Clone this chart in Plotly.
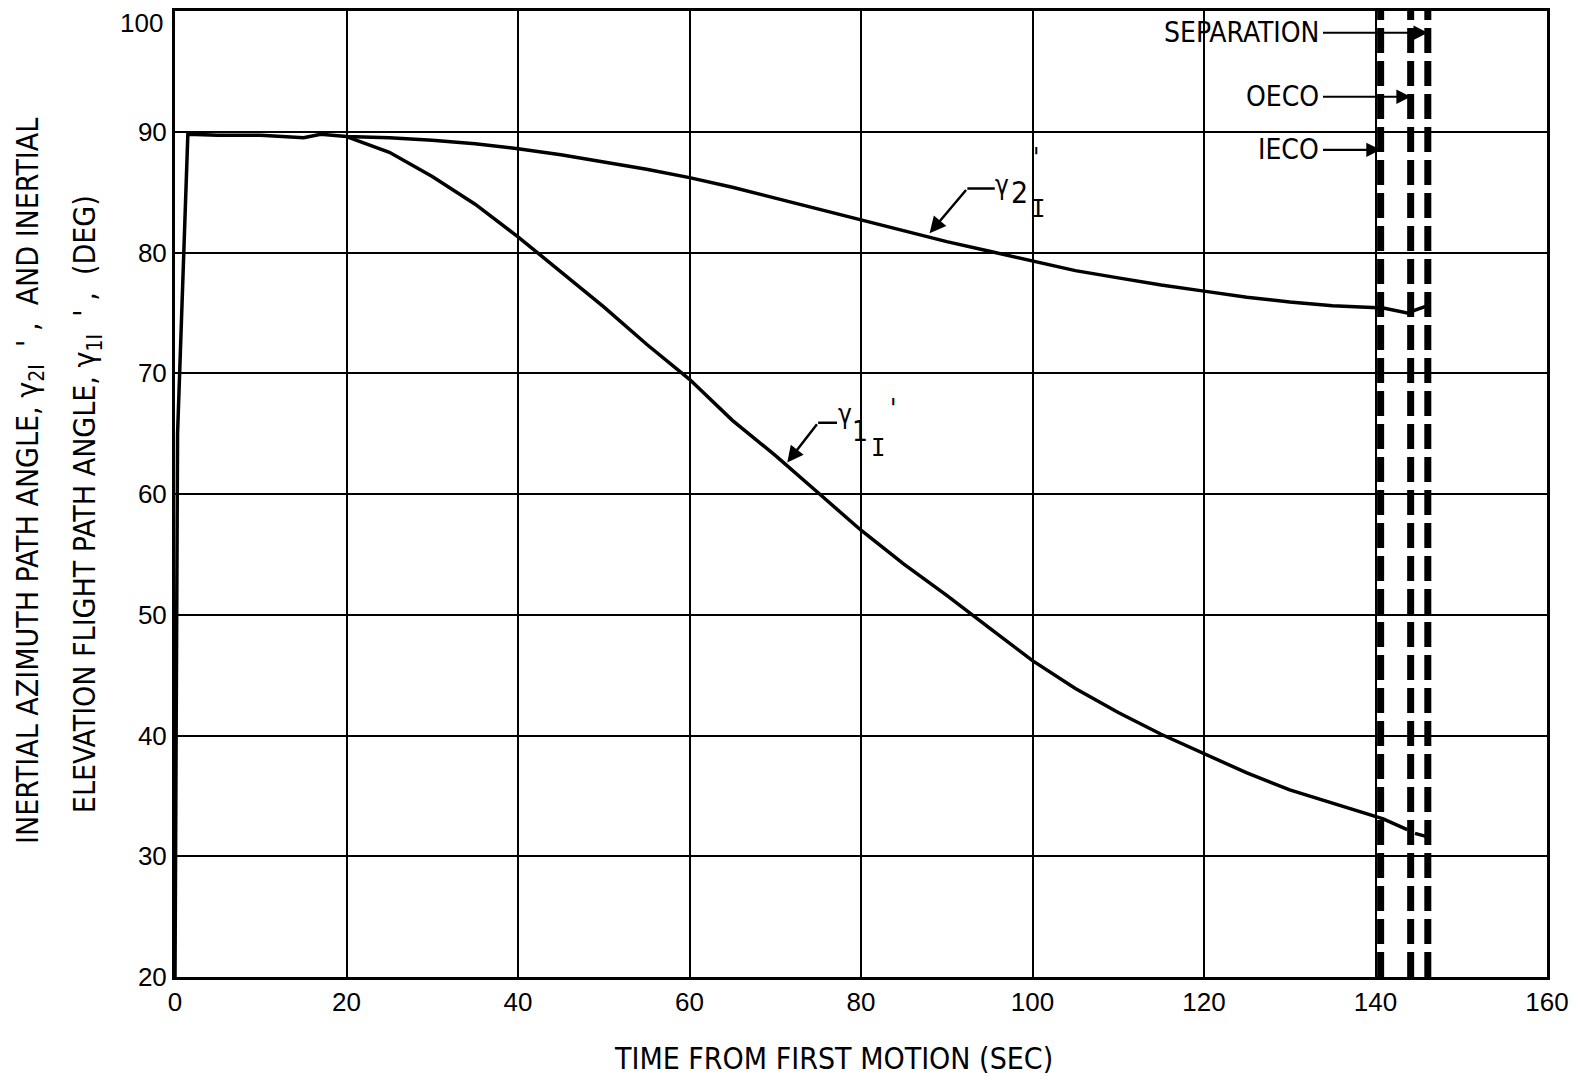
import plotly.graph_objects as go

# ---- data ----
t_g2 = [0, 0.3, 1.5, 5, 10, 15, 17, 20, 25, 30, 35, 40, 45, 50, 55, 60, 65, 70, 75, 80,
        85, 90, 95, 100, 105, 110, 115, 120, 125, 130, 135, 140.9, 143.7, 146.1]
gamma2 = [20, 65, 89.8, 89.7, 89.7, 89.5, 89.8, 89.6, 89.5, 89.3, 89.0, 88.6, 88.1, 87.5,
          86.9, 86.2, 85.4, 84.5, 83.6, 82.7, 81.8, 80.9, 80.1, 79.3, 78.5, 77.9, 77.3,
          76.8, 76.3, 75.9, 75.6, 75.4, 75.0, 75.6]

t_g1 = [20, 25, 30, 35, 40, 45, 50, 55, 60, 65, 70, 75, 80, 85, 90, 95, 100, 105, 110,
        115, 120, 125, 130, 135, 140.9, 143.7]
gamma1 = [89.6, 88.3, 86.3, 84.0, 81.3, 78.4, 75.5, 72.4, 69.5, 66.1, 63.2, 60.1, 57.0,
          54.2, 51.6, 48.9, 46.2, 43.9, 41.9, 40.1, 38.5, 36.9, 35.5, 34.4, 33.1, 32.2]
t_g1_tail = [144.6, 146.1]
gamma1_tail = [31.9, 31.6]

events = ["IECO", "OECO", "SEPARATION"]
event_times = [140.6, 144.1, 146.1]
event_label_y = [88.5, 92.9, 98.2]

x_ticks = [0, 20, 40, 60, 80, 100, 120, 140, 160]
y_ticks = [20, 30, 40, 50, 60, 70, 80, 90, 100]
y_tick_labels = ["20", "30", "40", "50", "60", "70", "80", "90", ""]
y_top_label = "100"

LABEL_FONT = "Liberation Sans Narrow, DejaVu Sans Condensed, sans-serif"
SERIF_I_FONT = "DejaVu Sans Mono, Liberation Mono, monospace"
TICK_FONT = "Liberation Sans, Arial, sans-serif"

fig = go.Figure()

line_style = dict(color="black", width=3.5)
fig.add_trace(go.Scatter(x=t_g2, y=gamma2, mode="lines", line=line_style, showlegend=False))
fig.add_trace(go.Scatter(x=t_g1, y=gamma1, mode="lines", line=line_style, showlegend=False))
fig.add_trace(go.Scatter(x=t_g1_tail, y=gamma1_tail, mode="lines", line=line_style, showlegend=False))

# event dashed lines
for tx in event_times:
    fig.add_trace(go.Scatter(x=[tx, tx], y=[20, 100], mode="lines",
                             line=dict(color="black", width=7, dash="25px,8px"),
                             showlegend=False))

annotations = []
# event labels with arrows
for name, tx, ly in zip(events, event_times, event_label_y):
    annotations.append(dict(x=133.6, y=ly, xref="x", yref="y", text=name, showarrow=False,
                            xanchor="right", yanchor="middle",
                            font=dict(family=LABEL_FONT, size=28, color="black")))
    annotations.append(dict(x=tx, y=ly, ax=133.7, ay=ly, xref="x", yref="y", axref="x", ayref="y",
                            text="", showarrow=True, arrowhead=2, arrowsize=1.3, arrowwidth=2.2,
                            arrowcolor="black"))

# curve labels
def glyph(x, y, txt, size, family=LABEL_FONT):
    return dict(x=x, y=y, xref="x", yref="y", text=txt, showarrow=False,
                xanchor="center", yanchor="middle",
                font=dict(family=family, size=size, color="black"))

# gamma2_I'
annotations += [glyph(96.4, 85.6, "γ", 26), glyph(98.5, 85.0, "2", 30),
                glyph(100.6, 83.6, "I", 24, SERIF_I_FONT), glyph(100.4, 87.8, "'", 26)]
annotations.append(dict(x=88.0, y=81.6, ax=92.4, ay=85.3, xref="x", yref="y", axref="x", ayref="y",
                        text="", showarrow=True, arrowhead=2, arrowsize=1.3, arrowwidth=2.5,
                        arrowcolor="black"))
# gamma1_I'
annotations += [glyph(78.1, 66.6, "γ", 26), glyph(79.9, 65.2, "1", 28),
                glyph(82.0, 63.8, "I", 24, SERIF_I_FONT), glyph(83.7, 67.0, "'", 26)]
annotations.append(dict(x=71.4, y=62.6, ax=75.0, ay=65.9, xref="x", yref="y", axref="x", ayref="y",
                        text="", showarrow=True, arrowhead=2, arrowsize=1.3, arrowwidth=2.5,
                        arrowcolor="black"))

# top y tick label (kept inside the page)
annotations.append(dict(x=-0.007, y=1.0, xref="paper", yref="paper", text=y_top_label,
                        showarrow=False, xanchor="right", yanchor="top", yshift=5,
                        font=dict(family=TICK_FONT, size=26, color="black")))

# axis titles
annotations.append(dict(x=-0.1057, y=0.5135, xref="paper", yref="paper", textangle=-90,
                        text="INERTIAL AZIMUTH PATH ANGLE, γ<sub>2</sub><sub>I</sub>  ' ,  AND INERTIAL",
                        showarrow=False, xanchor="center", yanchor="middle",
                        font=dict(family=LABEL_FONT, size=30, color="black")))
annotations.append(dict(x=-0.064, y=0.4897, xref="paper", yref="paper", textangle=-90,
                        text="ELEVATION FLIGHT PATH ANGLE, γ<sub>1</sub><sub>I</sub>  ' ,  (DEG)",
                        showarrow=False, xanchor="center", yanchor="middle",
                        font=dict(family=LABEL_FONT, size=30, color="black")))
annotations.append(dict(x=0.480, y=-0.0839, xref="paper", yref="paper",
                        text="TIME FROM FIRST MOTION (SEC)", showarrow=False,
                        xanchor="center", yanchor="middle",
                        font=dict(family=LABEL_FONT, size=30, color="black")))

# horizontal leader segments
shapes = [
    dict(type="line", xref="x", yref="y", x0=92.4, x1=95.6, y0=85.3, y1=85.3,
         line=dict(color="black", width=2.5)),
    dict(type="line", xref="x", yref="y", x0=75.0, x1=77.2, y0=65.9, y1=65.9,
         line=dict(color="black", width=2.5)),
]

axis_common = dict(automargin=False,
                   showgrid=True, gridcolor="black", gridwidth=2,
                   showline=True, linecolor="black", linewidth=3, mirror=True,
                   zeroline=False, ticks="", ticklen=0,
                   tickfont=dict(family=TICK_FONT, size=26, color="black"))

fig.update_layout(
    width=1580, height=1076,
    margin=dict(l=175, r=33, t=11, b=99),
    paper_bgcolor="white", plot_bgcolor="white",
    annotations=annotations, shapes=shapes,
    xaxis=dict(range=[0, 160], tickvals=x_ticks, ticktext=[str(v) for v in x_ticks],
               ticklabeloverflow="allow", **axis_common),
    yaxis=dict(range=[20, 100], tickvals=y_ticks, ticktext=y_tick_labels, **axis_common),
)

fig.write_html("out.html")
